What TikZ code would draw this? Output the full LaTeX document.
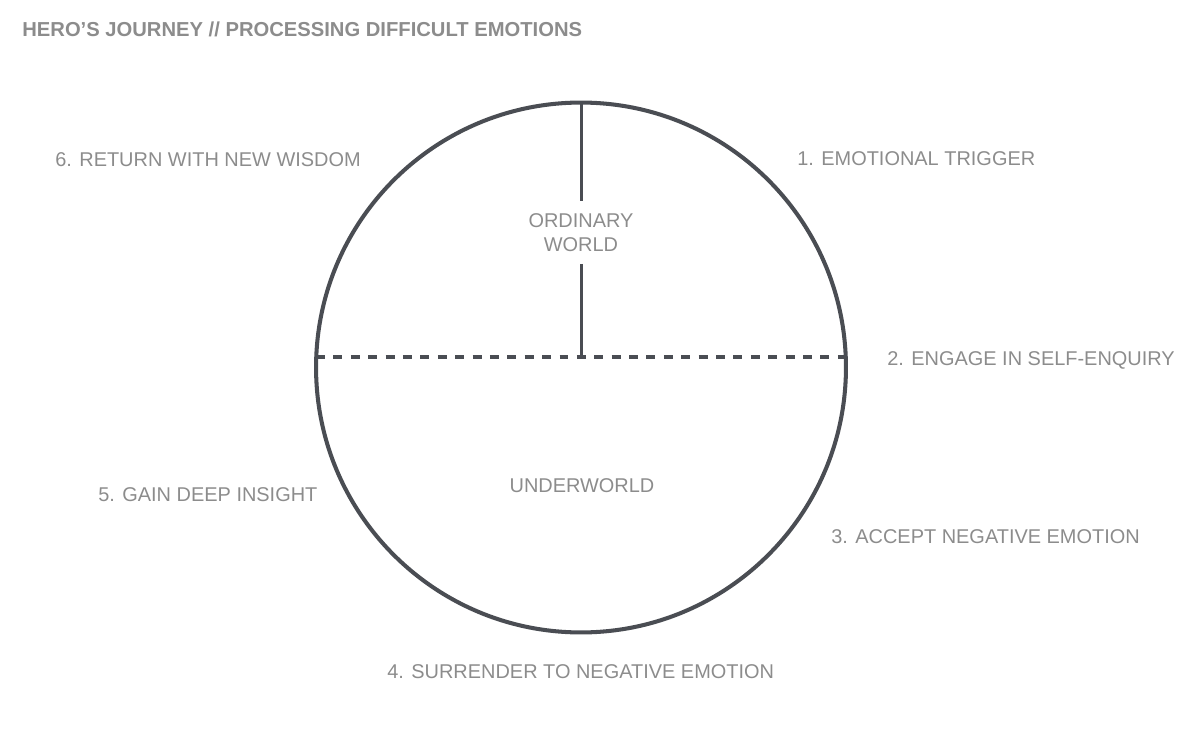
\documentclass[tikz,border=0pt]{standalone}
\usepackage{fontspec}
\setmainfont{Liberation Sans}
\usepackage{tikz}
\usetikzlibrary{positioning,calc}
\definecolor{ringgrey}{HTML}{4A4D53}
\definecolor{labelgrey}{HTML}{8C8C8C}

\begin{document}
\begin{tikzpicture}[x=0.02cm,y=-0.02cm,
	stage/.style={text=labelgrey,font=\fontsize{11.35}{13.6}\selectfont,inner sep=0pt,anchor=base west},
	world/.style={text=labelgrey,font=\fontsize{11.35}{13.6}\selectfont,inner sep=0pt,align=center},
	ring/.style={draw=ringgrey,line width=2.3pt,circle,minimum size=10.6cm,inner sep=0pt,outer sep=0pt},
	divider/.style={draw=ringgrey,line width=1.7pt},
	border/.style={draw=ringgrey,line width=2pt,dash pattern=on 5.1pt off 4.8pt}
	]
	\useasboundingbox (0,0) rectangle (1200,743);
	\node[stage,font=\fontsize{11.5}{13.6}\selectfont\bfseries] (title) at (22,36.5) {HERO’S JOURNEY // PROCESSING DIFFICULT EMOTIONS};
	% the journey circle
	\node[ring] (circ) at (581,367.5) {};
	\coordinate (west) at (316,357);
	\coordinate (east) at (846,357);
	\coordinate (hub) at (circ.north |- east);
	\node[world,minimum height=1.24cm] (ordinary) at (581,232.5) {ORDINARY\\WORLD};
	\node[world,anchor=base] (under) at (582,492) {UNDERWORLD};
	\draw[divider] (circ.north) -- (ordinary.north);
	\draw[divider] (ordinary.south) -- (hub);
	\draw[border] (west) -- (east);
	% stages
	\node[stage] (s1) at (797,166) {1. EMOTIONAL TRIGGER};
	\node[stage] (s2) at (887,365) {2. ENGAGE IN SELF-ENQUIRY};
	\node[stage] (s3) at (831,543) {3. ACCEPT NEGATIVE EMOTION};
	\node[stage] (s4) at (387,678) {4. SURRENDER TO NEGATIVE EMOTION};
	\node[stage] (s5) at (98,501.7) {5. GAIN DEEP INSIGHT};
	\node[stage] (s6) at (55,167) {6. RETURN WITH NEW WISDOM};
\end{tikzpicture}
\end{document}
